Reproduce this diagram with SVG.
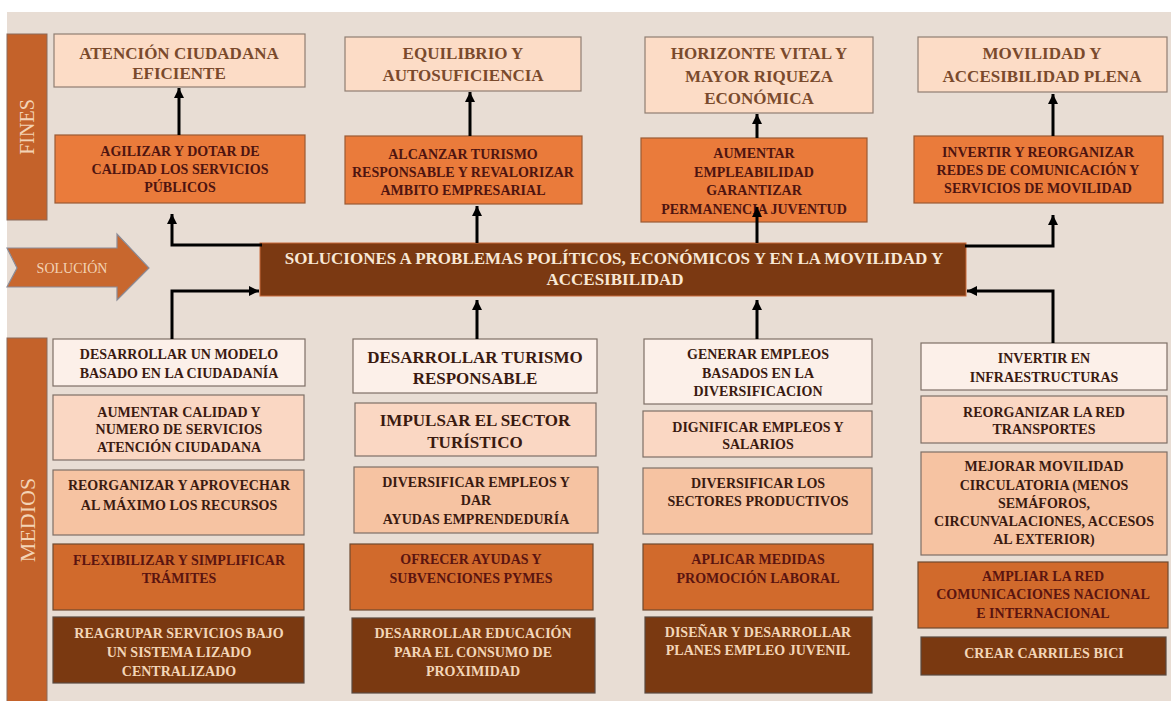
<svg xmlns="http://www.w3.org/2000/svg" width="1171" height="701" viewBox="0 0 1171 701">
<defs>
<marker id="ah" markerUnits="userSpaceOnUse" markerWidth="12" markerHeight="12" refX="10" refY="5" orient="auto">
<path d="M0,0 L10,5 L0,10 z" fill="#000"/>
</marker>
<style>
text{font-family:"Liberation Serif","Times New Roman",serif;font-weight:bold;text-anchor:middle}
.t1{font-size:17px;fill:#7a4a2c}
.t2{font-size:14px;fill:#4e1410}
.tm{font-size:14px;fill:#3a1a10}
.tm17{font-size:17px;fill:#3a1a10}
.td{font-size:14px;fill:#5a1410}
.tl{font-size:14px;fill:#f3d6b8}
.side{font-weight:normal;fill:#f3d3b5}
.f1{fill:#fcdcc6;stroke:#8f7e72;stroke-width:1.2}
.f2{fill:#ea7b3b;stroke:#9a5a34;stroke-width:1.2}
.ma{fill:#fcf0e9;stroke:#7e6f66;stroke-width:1.2}
.mb{fill:#fad7c3;stroke:#7e6f66;stroke-width:1.2}
.mc{fill:#f6c3a2;stroke:#7e6f66;stroke-width:1.2}
.md{fill:#d16a2c;stroke:#6e4a30;stroke-width:1.2}
.me{fill:#7a3911;stroke:#5a4a40;stroke-width:1.2}
.bar{fill:#c4622a;stroke:#8a6a5a;stroke-width:1}
.cn{fill:none;stroke:#000;stroke-width:3}
</style>
</defs>
<rect x="0" y="0" width="1171" height="701" fill="#ffffff"/>
<rect x="7" y="12" width="1164" height="689" fill="#e8ddd4"/>

<g id="fines-bar"><rect class="bar" x="7" y="34" width="40" height="186"/><text class="side" font-size="20" transform="translate(34,127) rotate(-90)">FINES</text></g>
<g id="medios-bar"><rect class="bar" x="7" y="338" width="40" height="370"/><text class="side" font-size="22" transform="translate(35,520) rotate(-90)">MEDIOS</text></g>
<g id="solucion-arrow"><path d="M7,248 L117,248 L117,234 L149,268 L117,300 L117,287 L7,287 L17,268 z" fill="#c8672e" stroke="#8b8c98" stroke-width="1.2"/><text class="side" font-size="14" x="72" y="273">SOLUCIÓN</text></g>

<g id="fin1"><rect class="f1" x="54" y="34" width="251" height="53"/><text class="t1" x="179" y="59">ATENCIÓN CIUDADANA</text><text class="t1" x="179" y="79">EFICIENTE</text></g>
<g id="fin2"><rect class="f1" x="345" y="37" width="236" height="54"/><text class="t1" x="463" y="59">EQUILIBRIO Y</text><text class="t1" x="463" y="81">AUTOSUFICIENCIA</text></g>
<g id="fin3"><rect class="f1" x="645" y="37" width="228" height="76"/><text class="t1" x="759" y="59">HORIZONTE VITAL Y</text><text class="t1" x="759" y="82">MAYOR RIQUEZA</text><text class="t1" x="759" y="104">ECONÓMICA</text></g>
<g id="fin4"><rect class="f1" x="918" y="37" width="249" height="55"/><text class="t1" x="1042" y="59">MOVILIDAD Y</text><text class="t1" x="1042" y="82">ACCESIBILIDAD PLENA</text></g>

<g id="obj1"><rect class="f2" x="55" y="135" width="250" height="68"/><text class="t2" x="180" y="156">AGILIZAR Y DOTAR DE</text><text class="t2" x="180" y="174">CALIDAD LOS  SERVICIOS</text><text class="t2" x="180" y="192">PÚBLICOS</text></g>
<g id="obj2"><rect class="f2" x="345" y="136" width="237" height="68"/><text class="t2" x="463" y="159">ALCANZAR  TURISMO</text><text class="t2" x="463" y="177">RESPONSABLE Y REVALORIZAR</text><text class="t2" x="463" y="195">AMBITO EMPRESARIAL</text></g>
<g id="obj3"><rect class="f2" x="641" y="138" width="226" height="84"/><text class="t2" x="754" y="158">AUMENTAR</text><text class="t2" x="754" y="177">EMPLEABILIDAD</text><text class="t2" x="754" y="195">GARANTIZAR</text><text class="t2" x="754" y="214">PERMANENCIA  JUVENTUD</text></g>
<g id="obj4"><rect class="f2" x="914" y="136" width="249" height="67"/><text class="t2" x="1038" y="157">INVERTIR Y REORGANIZAR</text><text class="t2" x="1038" y="175">REDES DE COMUNICACIÓN Y</text><text class="t2" x="1038" y="193">SERVICIOS  DE MOVILIDAD</text></g>

<g id="soluciones"><rect x="260" y="243" width="706" height="53" fill="#7b3912" stroke="#c86a3a" stroke-width="1"/><text x="614" y="264" font-size="17" fill="#f8e8d6">SOLUCIONES A PROBLEMAS POLÍTICOS, ECONÓMICOS Y EN LA MOVILIDAD Y</text><text x="615" y="285" font-size="17" fill="#f8e8d6">ACCESIBILIDAD</text></g>

<g id="m1a"><rect class="ma" x="53" y="339" width="252" height="47"/><text class="tm" x="179" y="359">DESARROLLAR UN MODELO</text><text class="tm" x="179" y="378">BASADO EN LA CIUDADANÍA</text></g>
<g id="m1b"><rect class="mb" x="53" y="395" width="251" height="65"/><text class="tm" x="179" y="417">AUMENTAR CALIDAD Y</text><text class="tm" x="179" y="434">NUMERO DE SERVICIOS</text><text class="tm" x="179" y="452">ATENCIÓN CIUDADANA</text></g>
<g id="m1c"><rect class="mc" x="53" y="470" width="251" height="65"/><text class="tm" x="179" y="490">REORGANIZAR Y APROVECHAR</text><text class="tm" x="179" y="510">AL MÁXIMO  LOS RECURSOS</text></g>
<g id="m1d"><rect class="md" x="53" y="544" width="251" height="66"/><text class="td" x="179" y="565">FLEXIBILIZAR Y SIMPLIFICAR</text><text class="td" x="179" y="583">TRÁMITES</text></g>
<g id="m1e"><rect class="me" x="53" y="617" width="251" height="66"/><text class="tl" x="179" y="638">REAGRUPAR SERVICIOS BAJO</text><text class="tl" x="179" y="657">UN SISTEMA LIZADO</text><text class="tl" x="179" y="676">CENTRALIZADO</text></g>

<g id="m2a"><rect class="ma" x="353" y="339" width="244" height="54"/><text class="tm17" x="475" y="363">DESARROLLAR TURISMO</text><text class="tm17" x="475" y="384">RESPONSABLE</text></g>
<g id="m2b"><rect class="mb" x="355" y="403" width="241" height="53"/><text class="tm17" x="475" y="426">IMPULSAR EL SECTOR</text><text class="tm17" x="475" y="448">TURÍSTICO</text></g>
<g id="m2c"><rect class="mc" x="354" y="467" width="244" height="66"/><text class="tm" x="476" y="487">DIVERSIFICAR  EMPLEOS Y</text><text class="tm" x="476" y="505">DAR</text><text class="tm" x="476" y="524">AYUDAS  EMPRENDEDURÍA</text></g>
<g id="m2d"><rect class="md" x="350" y="544" width="243" height="66"/><text class="td" x="471" y="564">OFRECER AYUDAS Y</text><text class="td" x="471" y="583">SUBVENCIONES  PYMES</text></g>
<g id="m2e"><rect class="me" x="352" y="618" width="243" height="75"/><text class="tl" x="473" y="638">DESARROLLAR EDUCACIÓN</text><text class="tl" x="473" y="657">PARA EL CONSUMO DE</text><text class="tl" x="473" y="676">PROXIMIDAD</text></g>

<g id="m3a"><rect class="ma" x="644" y="339" width="228" height="65"/><text class="tm" x="758" y="359">GENERAR EMPLEOS</text><text class="tm" x="758" y="378">BASADOS EN LA</text><text class="tm" x="758" y="396">DIVERSIFICACION</text></g>
<g id="m3b"><rect class="mb" x="643" y="411" width="229" height="46"/><text class="tm" x="758" y="432">DIGNIFICAR  EMPLEOS Y</text><text class="tm" x="758" y="449">SALARIOS</text></g>
<g id="m3c"><rect class="mc" x="643" y="468" width="229" height="66"/><text class="tm" x="758" y="488">DIVERSIFICAR  LOS</text><text class="tm" x="758" y="506">SECTORES PRODUCTIVOS</text></g>
<g id="m3d"><rect class="md" x="643" y="544" width="230" height="66"/><text class="td" x="758" y="564">APLICAR  MEDIDAS</text><text class="td" x="758" y="583">PROMOCIÓN  LABORAL</text></g>
<g id="m3e"><rect class="me" x="645" y="617" width="227" height="76"/><text class="tl" x="758" y="637">DISEÑAR Y DESARROLLAR</text><text class="tl" x="758" y="655">PLANES EMPLEO JUVENIL</text></g>

<g id="m4a"><rect class="ma" x="921" y="343" width="246" height="47"/><text class="tm" x="1044" y="363">INVERTIR  EN</text><text class="tm" x="1044" y="382">INFRAESTRUCTURAS</text></g>
<g id="m4b"><rect class="mb" x="921" y="396" width="246" height="47"/><text class="tm" x="1044" y="417">REORGANIZAR  LA RED</text><text class="tm" x="1044" y="434">TRANSPORTES</text></g>
<g id="m4c"><rect class="mc" x="921" y="452" width="246" height="103"/><text class="tm" x="1044" y="471">MEJORAR MOVILIDAD</text><text class="tm" x="1044" y="490">CIRCULATORIA (MENOS</text><text class="tm" x="1044" y="508">SEMÁFOROS,</text><text class="tm" x="1044" y="526">CIRCUNVALACIONES,  ACCESOS</text><text class="tm" x="1044" y="544">AL EXTERIOR)</text></g>
<g id="m4d"><rect class="md" x="918" y="562" width="250" height="66"/><text class="td" x="1043" y="581">AMPLIAR  LA RED</text><text class="td" x="1043" y="599">COMUNICACIONES  NACIONAL</text><text class="td" x="1043" y="618">E INTERNACIONAL</text></g>
<g id="m4e"><rect class="me" x="921" y="637" width="245" height="38"/><text class="tl" x="1044" y="658">CREAR CARRILES  BICI</text></g>

<g id="connectors">
<line class="cn" x1="179" y1="135" x2="179" y2="88" marker-end="url(#ah)"/>
<line class="cn" x1="470" y1="136" x2="470" y2="92" marker-end="url(#ah)"/>
<line class="cn" x1="757" y1="138" x2="757" y2="114" marker-end="url(#ah)"/>
<line class="cn" x1="1053" y1="136" x2="1053" y2="94" marker-end="url(#ah)"/>
<polyline class="cn" points="262,245 172,245 172,214" marker-end="url(#ah)"/>
<line class="cn" x1="477" y1="243" x2="477" y2="206" marker-end="url(#ah)"/>
<line class="cn" x1="757" y1="243" x2="757" y2="207" marker-end="url(#ah)"/>
<polyline class="cn" points="965,246 1053,246 1053,215" marker-end="url(#ah)"/>
<polyline class="cn" points="172,339 172,291 259,291" marker-end="url(#ah)"/>
<line class="cn" x1="477" y1="339" x2="477" y2="300" marker-end="url(#ah)"/>
<line class="cn" x1="757" y1="339" x2="757" y2="300" marker-end="url(#ah)"/>
<polyline class="cn" points="1053,343 1053,291 967,291" marker-end="url(#ah)"/>
</g>
</svg>
